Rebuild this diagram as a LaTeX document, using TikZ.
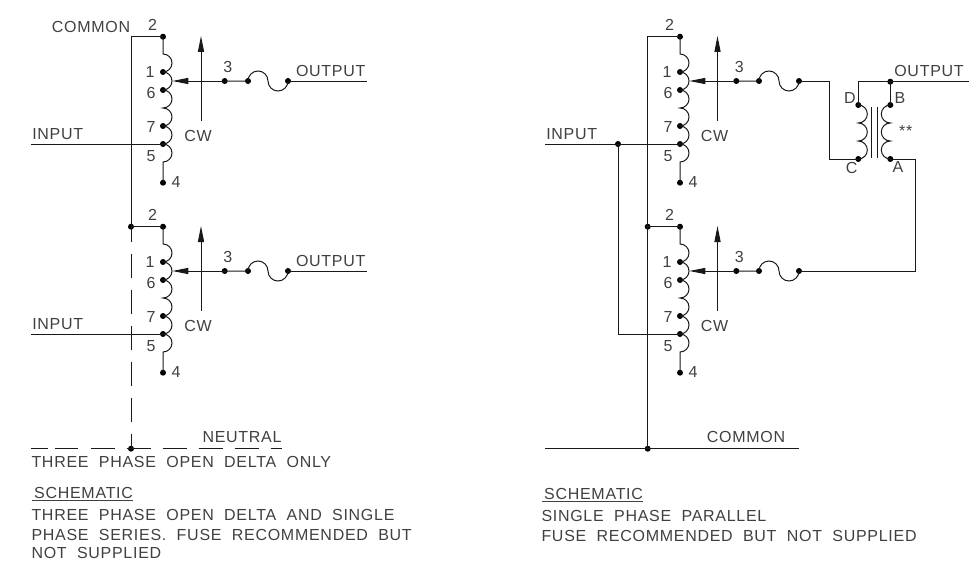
\documentclass[tikz,border=0pt]{standalone}
\usepackage{fontspec}
\setmainfont{Liberation Sans}[LetterSpace=4.5]
\usetikzlibrary{arrows.meta}

\begin{document}
\begin{tikzpicture}[x=0.75pt,y=-0.75pt,line width=0.75pt,color=black!90,>={Triangle[length=12pt,width=4.6pt]}]
    \tikzstyle{pin}=[circle,fill=black,minimum size=4.5pt,inner sep=0pt]
    \tikzstyle{lbl}=[inner sep=0pt,text=black!75,font=\fontsize{12pt}{14pt}\selectfont]
    \tikzstyle{neutraldash}=[dash pattern=on 18pt off 9pt]
    \useasboundingbox (0,0) rectangle (980,560);

    % one motor winding per side, two per column
    \foreach \col/\cx/\ax/\tx/\fx in {L/163/201/224.7/248, R/680/717.5/736.3/759}
        \foreach \row/\dy in {T/0, B/190} {
            \node[pin] (V-\col-\row-2) at (\cx,36.7+\dy) {};
            \foreach \num/\y in {1/72, 6/90, 7/126, 5/144}
                \node[pin] (V-\col-\row-\num) at (\cx,\y+\dy) {};
            \node[pin] (V-\col-\row-4) at (\cx,182.7+\dy) {};
            \node[pin] (V-\col-\row-3) at (\tx,81+\dy) {};
            \node[pin] (F-\col-\row-a) at (\fx,81+\dy) {};
            \node[pin] (F-\col-\row-b) at (\fx+40,81+\dy) {};
            \coordinate (coil-\col-\row) at (\cx,54+\dy);
            \coordinate (tip-\col-\row) at (\cx+9.3,81+\dy);
            \coordinate (cwa-\col-\row) at (\ax,120.7+\dy);
            \coordinate (cwb-\col-\row) at (\ax,36+\dy);

            \draw (V-\col-\row-2.center) -- (coil-\col-\row)
                arc (90:-90:6.75pt) arc (90:-90:6.75pt) arc (90:-90:6.75pt)
                arc (90:-90:6.75pt) arc (90:-90:6.75pt) arc (90:-90:6.75pt)
                -- (V-\col-\row-4.center);
            \draw[->] (V-\col-\row-3.center) -- (tip-\col-\row);
            \draw (V-\col-\row-3.center) -- (F-\col-\row-a.center)
                arc (180:0:7.5pt) arc (180:360:7.5pt);
            \draw[->] (cwa-\col-\row) -- (cwb-\col-\row);

            \node[lbl] (n1-\col-\row) at (\cx-13,72.3+\dy) {1};
            \node[lbl] (n6-\col-\row) at (\cx-12,93+\dy) {6};
            \node[lbl] (n7-\col-\row) at (\cx-12,126.7+\dy) {7};
            \node[lbl] (n5-\col-\row) at (\cx-12,155.7+\dy) {5};
            \node[lbl] (n4-\col-\row) at (\cx+13,181.7+\dy) {4};
            \node[lbl] (n3-\col-\row) at (\tx+3,66.7+\dy) {3};
            \node[lbl] (cw-\col-\row) at (\ax-3,136+\dy) {CW};
            \node[lbl] (n2-\col-\row) at (\cx-10.5,25+\dy) {2};
        }

    % left column
    \coordinate (bus-L-top) at (131,36.7);
    \node[pin] (bus-L-mid) at (131,226.7) {};
    \node[pin] (bus-L-end) at (131,448.7) {};
    \coordinate (in-L-T-a) at (31,144);
    \coordinate (in-L-B-a) at (31,334);
    \coordinate (out-L-T) at (367,81);
    \coordinate (out-L-B) at (367,271);
    \coordinate (neu-a) at (31,448.7);
    \coordinate (neu-b) at (281.7,448.7);

    \draw (V-L-T-2.center) -- (bus-L-top) -- (bus-L-mid.center) -- (V-L-B-2.center);
    \draw (in-L-T-a) -- (V-L-T-5.center);
    \draw (in-L-B-a) -- (V-L-B-5.center);
    \draw (F-L-T-b.center) -- (out-L-T);
    \draw (F-L-B-b.center) -- (out-L-B);
    \draw[neutraldash,dash phase=6.75pt] (bus-L-end.center) -- (bus-L-mid.center);
    \draw[dash pattern=on 12.75pt off 5.25pt on 17.25pt off 9.75pt on 18pt off 8.75pt on 18pt off 9pt on 18pt off 9pt on 18pt off 9pt on 18pt off 9pt on 9pt off 9pt] (neu-a) -- (neu-b);

    \node[lbl] (common-L) at (91,26.7) {COMMON};
    \node[lbl] (in-L-T) at (57.7,134) {INPUT};
    \node[lbl] (in-L-B) at (57.7,324) {INPUT};
    \node[lbl] (out-L-T-t) at (330.7,70.7) {OUTPUT};
    \node[lbl] (out-L-B-t) at (330.7,260.7) {OUTPUT};
    \node[lbl] (neutral) at (242,437.3) {NEUTRAL};
    \node[lbl,anchor=west] (open-delta) at (31,462.3) {THREE\ \ PHASE\ \ OPEN\ \ DELTA\ \ ONLY};
    \node[lbl,anchor=west] (sch-L) at (31,494) {\underline{\,SCHEMATIC}};
    \node[lbl,anchor=west] (txt-L1) at (31,515) {THREE\ \ PHASE\ \ OPEN\ \ DELTA\ \ AND\ \ SINGLE};
    \node[lbl,anchor=west] (txt-L2) at (31,535) {PHASE\ \ SERIES.\ \ FUSE\ \ RECOMMENDED\ \ BUT};
    \node[lbl,anchor=west] (txt-L3) at (31,552.5) {NOT\ \ SUPPLIED};

    % right column
    \coordinate (bus-R-top) at (647.7,36.7);
    \node[pin] (bus-R-mid) at (647.7,226.7) {};
    \node[pin] (bus-R-end) at (647.7,448.7) {};
    \node[pin] (in-R-tap) at (618,144) {};
    \coordinate (in-R-a) at (545,144);
    \coordinate (in-R-c) at (618,334);
    \coordinate (com-a) at (545,448.7);
    \coordinate (com-b) at (798.7,448.7);

    \draw (V-R-T-2.center) -- (bus-R-top) -- (bus-R-end.center);
    \draw (bus-R-mid.center) -- (V-R-B-2.center);
    \draw (in-R-a) -- (V-R-T-5.center);
    \draw (in-R-tap.center) -- (in-R-c) -- (V-R-B-5.center);
    \draw (com-a) -- (com-b);

    % transformer
    \node[pin] (T-D) at (858.3,105) {};
    \node[pin] (T-C) at (858.3,159) {};
    \node[pin] (T-B) at (890.3,105) {};
    \node[pin] (T-A) at (890.3,159) {};
    \node[pin] (T-J) at (890.3,81.7) {};
    \coordinate (T-fuse) at (829,81);
    \coordinate (T-low) at (829,159);
    \coordinate (T-top) at (858.3,81.7);
    \coordinate (T-out) at (969,81.7);
    \coordinate (T-side) at (915,159);
    \coordinate (T-back) at (915,271);
    \coordinate (core-a1) at (871.7,107);
    \coordinate (core-a2) at (871.7,158);
    \coordinate (core-b1) at (877.3,107);
    \coordinate (core-b2) at (877.3,158);

    \draw (F-R-T-b.center) -- (T-fuse) -- (T-low) -- (T-C.center);
    \draw (T-D.center) -- (T-top) -- (T-out);
    \draw (T-J.center) -- (T-B.center);
    \draw (T-A.center) -- (T-side) -- (T-back) -- (F-R-B-b.center);
    \draw (T-D.center) arc (90:-90:6.75pt) arc (90:-90:6.75pt) arc (90:-90:6.75pt);
    \draw (T-B.center) arc (90:270:6.75pt) arc (90:270:6.75pt) arc (90:270:6.75pt);
    \draw (core-a1) -- (core-a2);
    \draw (core-b1) -- (core-b2);

    \node[lbl] (lab-D) at (850,98) {D};
    \node[lbl] (lab-B) at (900,98) {B};
    \node[lbl] (lab-C) at (851.7,168) {C};
    \node[lbl] (lab-A) at (898,167) {A};
    \node[lbl] (lab-star) at (905.7,131) {**};
    \node[lbl] (in-R) at (571.7,134) {INPUT};
    \node[lbl] (out-R) at (929,70.7) {OUTPUT};
    \node[lbl] (common-R) at (746,436.7) {COMMON};
    \node[lbl,anchor=west] (sch-R) at (541,495) {\underline{\,SCHEMATIC}};
    \node[lbl,anchor=west] (txt-R1) at (541,515.7) {SINGLE\ \ PHASE\ \ PARALLEL};
    \node[lbl,anchor=west] (txt-R2) at (541,535.7) {FUSE\ \ RECOMMENDED\ \ BUT\ \ NOT\ \ SUPPLIED};
\end{tikzpicture}
\end{document}
